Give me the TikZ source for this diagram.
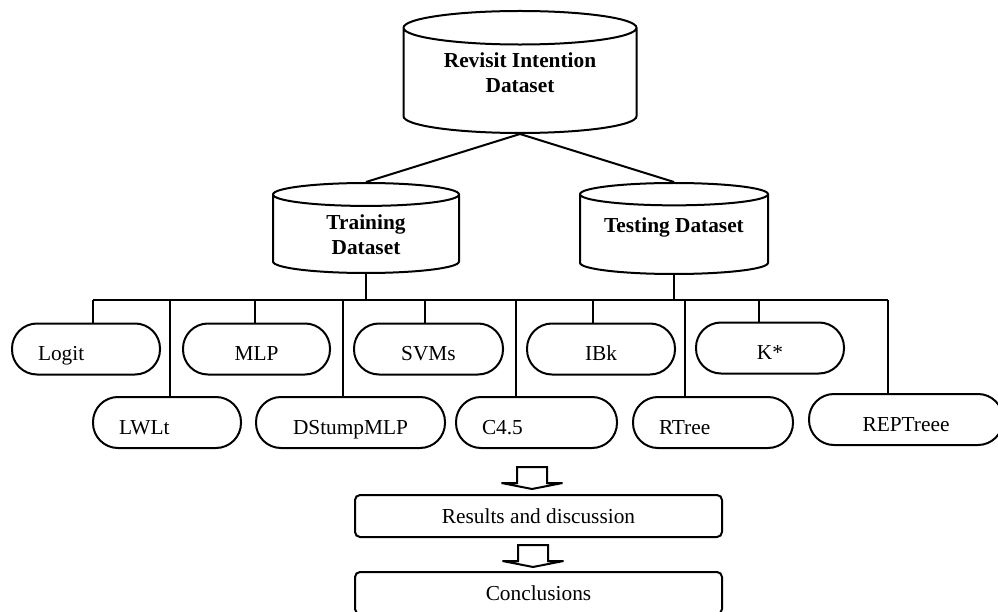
\documentclass[tikz,border=0pt]{standalone}
\usepackage{fontspec}
\setmainfont{Liberation Serif}
\usetikzlibrary{
  positioning,
  shapes.geometric
}
\tikzset{dataset/.style={
  cylinder,
  shape border rotate=90,
  draw, line width=1.2pt,
  inner sep=0pt,
  anchor=north,
  align=center,
  font=\bfseries\fontsize{12.8}{15}\selectfont
}}
\tikzset{algo/.style={
  draw, line width=1.2pt,
  rounded corners=15pt,
  minimum height=30.6pt,
  text height=16pt, text depth=2pt,
  minimum width=#1
}}
\tikzset{algoleft/.style={
  algo=0pt,
  align=left,
  inner xsep=15.6pt,
  text width=#1
}}
\tikzset{stage/.style={
  draw, line width=1.2pt,
  rounded corners=3pt,
  minimum width=220.2pt,
  minimum height=25.2pt
}}
\tikzset{downarrow/.pic={
  \draw[line width=1.2pt] (-15,0) -- (-15,16) -- (-30.5,16) -- (0,22)
    -- (30.5,16) -- (15,16) -- (15,0) -- cycle;
}}

\begin{document}
\begin{tikzpicture}[x=0.6pt, y=-0.6pt, line width=1.2pt,
    font=\fontsize{12.8}{15}\selectfont]
  \useasboundingbox (0,0) rectangle (998,612);

  \node [dataset, aspect=0.22, minimum width=139.8pt, minimum height=73.2pt,
         text depth=10.5pt] (rev) at (520,10)
    {Revisit Intention\\Dataset};
  \node [dataset, aspect=0.29, minimum width=111.6pt, minimum height=54pt] (train) at (366,182)
    {Training\\Dataset};
  \node [dataset, aspect=0.16, minimum width=112.8pt, minimum height=54.6pt,
         text depth=11pt] (test) at (674,182)
    {Testing Dataset};

  \node [algoleft=57.6pt] (logit) at (86,349) {Logit};
  \node [algo=88.2pt] (mlp) at (256.5,349) {MLP};
  \node [algo=89.4pt] (svms) at (428.5,349) {SVMs};
  \node [algo=88.8pt] (ibk) at (601,349) {IBk};
  \node [algo=88.8pt] (kstar) at (770,348) {K*};

  \node [algoleft=57.6pt] (lwlt) at (167,422.5) {LWLt};
  \node [algo=113.4pt] (dstump) at (350.5,422.5) {DStumpMLP};
  \node [algoleft=65.4pt] (c45) at (536.5,422.5) {C4.5};
  \node [algoleft=64.8pt] (rtree) at (713,422.5) {RTree};
  \node [algo=116.4pt] (rep) at (906,419.5) {REPTreee};

  \node [stage] (res) at (538.5,516) {Results and discussion};
  \node [stage] (concl) at (538.5,593) {Conclusions};

  \pic (arr1) at (532,467) {downarrow};
  \pic (arr2) at (533,545) {downarrow};

  \coordinate (bus) at (0,300);
  \draw (rev.south) -- (train.north);
  \draw (rev.south) -- (test.north);
  \draw (train.south) -- (train.south |- bus);
  \draw (test.south) -- (test.south |- bus);
  \foreach \n/\dx in {logit/7, lwlt/3, mlp/-2, dstump/-8, svms/-4,
                      c45/-21, ibk/-8, rtree/-28, kstar/-11, rep/-18}
    \draw ([xshift=\dx*0.6pt]\n.north) coordinate (\n-t) -- (\n-t |- bus) coordinate (\n-b);
  \draw (logit-b) -- (rep-b);
\end{tikzpicture}
\end{document}
